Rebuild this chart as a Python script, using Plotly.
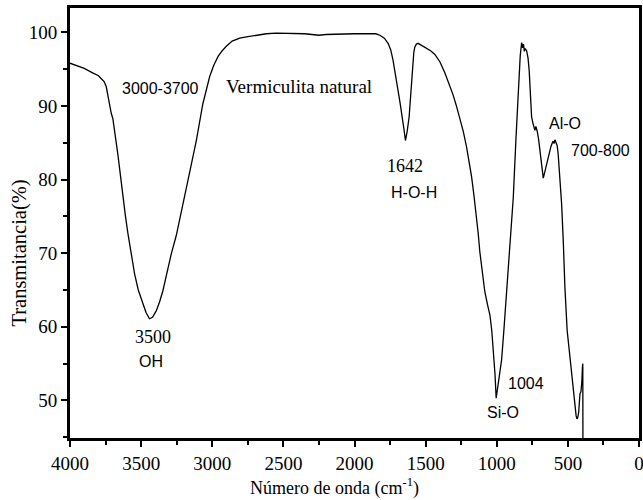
import plotly.graph_objects as go

wavenumber = [4000, 3950, 3900, 3851, 3800, 3780, 3760, 3745, 3735, 3722, 3710, 3699,
              3680, 3664, 3645, 3628, 3610, 3593, 3570, 3546, 3520, 3488, 3465, 3441,
              3420, 3393, 3370, 3347, 3320, 3288, 3253, 3220, 3182, 3150, 3112, 3090,
              3066, 3040, 3018, 2990, 2960, 2930, 2901, 2860, 2807, 2750, 2690, 2620,
              2550, 2450, 2350, 2300, 2250, 2200, 2100, 2000, 1900, 1850, 1822, 1790,
              1764, 1745, 1729, 1710, 1694, 1678, 1663, 1650, 1642, 1630, 1616, 1604,
              1592, 1583, 1576, 1565, 1553, 1520, 1494, 1465, 1435, 1400, 1365, 1335,
              1307, 1285, 1260, 1235, 1212, 1195, 1177, 1160, 1142, 1130, 1119, 1100,
              1084, 1065, 1048, 1035, 1025, 1012, 1004, 995, 980, 966, 950, 931, 908,
              884, 865, 849, 835, 825, 818, 812, 806, 800, 790, 780, 772, 763, 755, 745,
              738, 732, 725, 716, 706, 697, 685, 673, 665, 655, 645, 632, 619, 605, 597,
              591, 582, 575, 568, 556, 544, 532, 521, 505, 486, 470, 458, 450, 442, 436,
              430, 424, 420, 415, 408, 402, 397, 395, 393]
transmittance = [95.8, 95.5, 95.1, 94.6, 94.1, 93.7, 93.3, 92.6, 91.4, 89.9, 89.0, 88.3,
                 86.0, 83.5, 80.5, 77.6, 75.0, 72.7, 69.8, 67.2, 65.0, 63.1, 61.9, 61.1,
                 61.3, 62.2, 63.4, 64.9, 67.3, 69.9, 72.4, 75.3, 78.6, 81.8, 85.3, 87.8,
                 90.3, 92.3, 94.0, 95.5, 96.7, 97.5, 98.1, 98.8, 99.2, 99.4, 99.6, 99.8,
                 99.9, 99.9, 99.8, 99.7, 99.6, 99.7, 99.8, 99.8, 99.8, 99.8, 99.6, 99.2,
                 98.5, 97.6, 96.2, 94.2, 92.1, 90.2, 88.5, 86.5, 85.3, 86.5, 88.5, 92.0,
                 95.3, 97.3, 98.0, 98.4, 98.5, 98.1, 97.8, 97.5, 97.0, 96.0, 94.5, 93.0,
                 91.5, 90.1, 88.4, 86.5, 84.4, 82.6, 80.4, 77.8, 74.9, 72.6, 70.2, 67.0,
                 64.8, 63.0, 61.6, 59.5, 57.0, 53.5, 50.3, 51.5, 53.3, 55.5, 59.5, 64.5, 70.4,
                 77.5, 85.5, 92.4, 96.8, 98.6, 97.9, 98.4, 97.4, 97.8, 97.5, 96.5, 94.8, 91.5,
                 88.5, 87.6, 87.2, 86.7, 87.2, 86.6, 85.5, 84.2, 81.8, 80.2, 80.8, 81.6, 82.5,
                 83.5, 84.5, 85.2, 84.9, 85.4, 84.8, 84.6, 83.4, 80.5, 76.7, 71.5, 65.4, 59.5,
                 55.8, 53.5, 51.0, 48.7, 47.9, 47.5, 47.7, 48.4, 50.4, 50.9, 51.2, 52.5,
                 54.8, 55.0, 30.0]

ann_text = ["3000-3700", "Vermiculita natural", "3500", "OH", "1642", "H-O-H",
            "1004", "Si-O", "Al-O", "700-800"]
ann_x = [3363, 2392, 3420, 3434, 1644, 1581, 795, 957, 520, 274]
ann_y = [92.3, 92.7, 58.6, 55.3, 81.9, 78.3, 52.3, 48.3, 87.6, 83.9]
ann_font = ["Liberation Sans", "Liberation Serif", "Liberation Serif", "Liberation Sans",
            "Liberation Serif", "Liberation Sans", "Liberation Sans", "Liberation Sans",
            "Liberation Sans", "Liberation Sans"]
ann_size = [16, 19, 18, 16, 18, 16, 16, 16, 16, 16]

x_title = "Número de onda (cm<sup>-1</sup>)"
y_title = "Transmitancia(%)"

SERIF = "Liberation Serif, Times New Roman, serif"

fig = go.Figure()
fig.add_trace(go.Scatter(x=wavenumber, y=transmittance, mode="lines",
                         line=dict(color="black", width=1.3), showlegend=False))

for t, x, y, f, s in zip(ann_text, ann_x, ann_y, ann_font, ann_size):
    fig.add_annotation(x=x, y=y, text=t, showarrow=False,
                       font=dict(family=f, size=s, color="black"))

# axis titles (placed off-centre as in the original)
fig.add_annotation(xref="paper", yref="paper", x=0.464, y=-0.114, text=x_title,
                   showarrow=False, xanchor="center", yanchor="middle",
                   font=dict(family=SERIF, size=18, color="black"))
fig.add_annotation(xref="paper", yref="paper", x=-0.088, y=0.431, text=y_title,
                   textangle=-90, showarrow=False, xanchor="center", yanchor="middle",
                   font=dict(family=SERIF, size=20.5, color="black"))

axis_common = dict(showline=True, linewidth=3, linecolor="black", mirror=True,
                   ticks="outside", ticklen=6, tickwidth=2, tickcolor="black",
                   showgrid=False, zeroline=False, automargin=False,
                   ticklabeloverflow="allow",
                   tickfont=dict(family=SERIF, size=19, color="black"))

fig.update_xaxes(range=[4000, 0], tickvals=[4000, 3500, 3000, 2500, 2000, 1500, 1000, 500, 0],
                 ticktext=["4000", "3500", "3000", "2500", "2000", "1500", "1000", "500", "0"],
                 minor=dict(dtick=250, ticks="outside", ticklen=4, tickwidth=2, tickcolor="black"),
                 **axis_common)
fig.update_yaxes(range=[44.9, 103.3], tickvals=[50, 60, 70, 80, 90, 100],
                 ticktext=["50", "60", "70", "80", "90", "100"],
                 minor=dict(dtick=5, ticks="outside", ticklen=4, tickwidth=2, tickcolor="black"),
                 **axis_common)

fig.update_layout(width=643, height=500, margin=dict(l=70, r=4, t=8, b=62),
                  plot_bgcolor="white", paper_bgcolor="white",
                  font=dict(family=SERIF, color="black"))

fig.write_html("out.html", config={"displayModeBar": False},
               post_script="document.body.style.margin='0';document.body.style.overflow='hidden';")
